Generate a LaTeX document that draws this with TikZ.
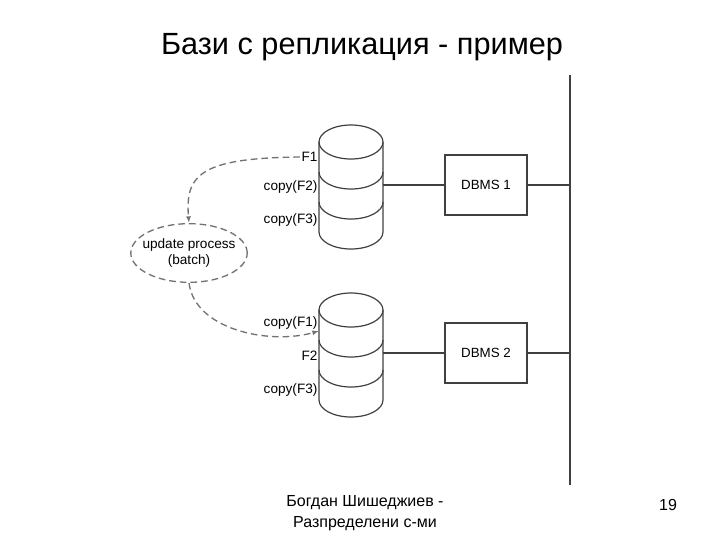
\documentclass[tikz,border=0pt]{standalone}
\usepackage{fontspec}
\setmainfont{Liberation Sans}
\usetikzlibrary{arrows.meta,shapes.geometric}
\begin{document}
\begin{tikzpicture}[x=0.75pt,y=-0.75pt,
  line/.style={draw=black!75,line width=0.9pt},
  dsh/.style={draw=black!55,line width=1pt,dash pattern=on 5pt off 3pt},
  lbl/.style={font=\fontsize{10.2}{12}\selectfont,anchor=east,inner sep=1pt},
  box/.style={draw=black!75,line width=0.9pt,minimum width=61.5pt,minimum height=45pt,font=\fontsize{10}{12}\selectfont}]
\useasboundingbox (0,0) rectangle (720,540);
\node (title) at (362,47) {\fontsize{23}{27}\selectfont Бази с репликация - пример};
% cylinders
\foreach \n/\t in {c1/142,c2/310}{
  \begin{scope}[line]
    \draw (351,\t) ellipse [x radius=32, y radius=17];
    \draw (319,\t) -- (319,\t+90) arc[start angle=180,end angle=0,x radius=32,y radius=17] -- (383,\t);
    \draw (319,\t+30) arc[start angle=180,end angle=0,x radius=32,y radius=17];
    \draw (319,\t+60) arc[start angle=180,end angle=0,x radius=32,y radius=17];
  \end{scope}
  \coordinate (\n) at (383,\t+43);
}
\node[box] (d1) at (486,185) {DBMS 1};
\node[box] (d2) at (486,353) {DBMS 2};
\coordinate (bt) at (570,75);
\coordinate (bb) at (570,485);
\draw[line] (bt) -- (bb);
\draw[line] (c1) -- (d1.west);
\draw[line] (c2) -- (d2.west);
\draw[line] (d1.east) -- (d1.east -| bt);
\draw[line] (d2.east) -- (d2.east -| bt);
\node[lbl] (f1) at (319,157) {F1};
\node[lbl] (cf2) at (319,187) {copy(F2)};
\node[lbl] (cf3) at (319,220) {copy(F3)};
\node[lbl] (cf1) at (319,323) {copy(F1)};
\node[lbl] (f2) at (319,356) {F2};
\node[lbl] (cf3b) at (319,390) {copy(F3)};
\node[dsh,ellipse,align=center,inner xsep=-4pt,inner ysep=2pt,minimum height=44pt,font=\fontsize{10.2}{12}\selectfont] (up) at (189,253) {update process\\(batch)};
\draw[dsh,-{Latex[length=5pt]}] (f1.west) .. controls (200,158) and (185,175) .. (up.north);
\draw[dsh,-{Latex[length=5pt]}] (up.south) .. controls (195,330) and (270,345) .. (cf1.south east);
\node (au) at (365,513) {\fontsize{12}{16}\selectfont\begin{tabular}{c}Богдан Шишеджиев -\\Разпределени с-ми\end{tabular}};
\node (pg) at (668,505) {\fontsize{12}{14}\selectfont 19};
\end{tikzpicture}
\end{document}
